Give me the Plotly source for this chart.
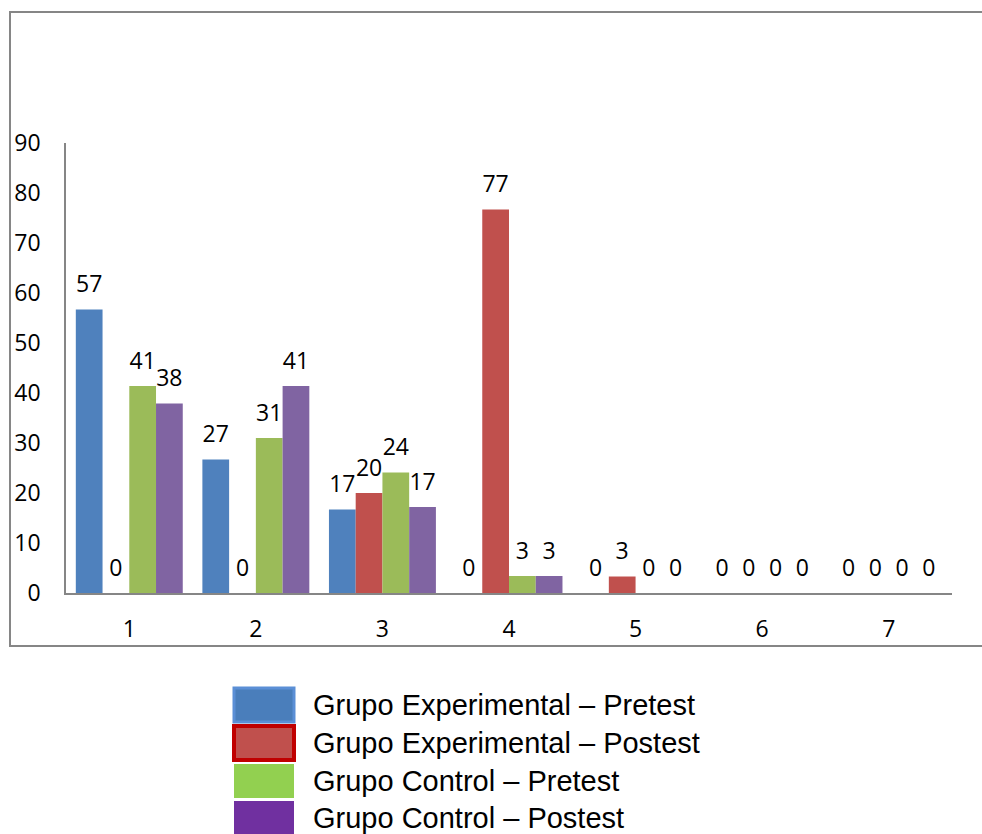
import plotly.graph_objects as go

categories = ["1", "2", "3", "4", "5", "6", "7"]
series_names = [
    "Grupo Experimental – Pretest",
    "Grupo Experimental – Postest",
    "Grupo Control – Pretest",
    "Grupo Control – Postest",
]
exp_pre = [56.7, 26.7, 16.7, 0, 0, 0, 0]
exp_post = [0, 0, 20.0, 76.7, 3.3, 0, 0]
ctl_pre = [41.4, 31.0, 24.1, 3.4, 0, 0, 0]
ctl_post = [37.9, 41.4, 17.2, 3.4, 0, 0, 0]
bar_colors = ["#4F81BD", "#C0504D", "#9BBB59", "#8064A2"]
y_ticks = [0, 10, 20, 30, 40, 50, 60, 70, 80, 90]

all_series = [exp_pre, exp_post, ctl_pre, ctl_post]

W, H = 982, 834
L, R, T, B = 66, 30, 143, 241
PW, PH = W - L - R, H - T - B


def px_x(x):
    return (x - L) / PW


def px_y(y):
    return (H - B - y) / PH


fig = go.Figure()
for i, (name, vals, col) in enumerate(zip(series_names, all_series, bar_colors)):
    fig.add_trace(go.Bar(
        x=categories, y=vals, name=name,
        marker=dict(color=col, line=dict(width=0)),
        offsetgroup=str(i),
        showlegend=False, hoverinfo="skip",
    ))
for i, (name, vals) in enumerate(zip(series_names, all_series)):
    fig.add_trace(go.Scatter(
        x=categories, y=vals, name=name + " (etiquetas)",
        mode="markers+text",
        marker=dict(size=17, opacity=0),
        offsetgroup=str(i),
        text=[f"{round(v):d}" for v in vals],
        textposition="top center",
        cliponaxis=False,
        textfont=dict(family="Open Sans", size=23, color="#000000"),
        showlegend=False, hoverinfo="skip",
    ))

shapes = []
shapes.append(dict(type="rect", xref="paper", yref="paper",
                   x0=px_x(10), x1=px_x(1010), y0=px_y(646), y1=px_y(12),
                   line=dict(color="#868686", width=2), fillcolor="rgba(0,0,0,0)",
                   layer="below"))

legend_fill = ["#4A7EBB", "#C0504D", "#92D050", "#7030A0"]
legend_line = ["#5B8FD6", "#C00000", "#92D050", "#7030A0"]
legend_lw = [3, 4, 0, 0]
rows = [(688, 722), (726, 760), (764, 798), (801, 835)]
annotations = []
for (y0, y1), name, fc, lc, lw in zip(rows, series_names, legend_fill, legend_line, legend_lw):
    shapes.append(dict(type="rect", xref="paper", yref="paper",
                       x0=px_x(234), x1=px_x(294), y0=px_y(y1), y1=px_y(y0),
                       fillcolor=fc, line=dict(color=lc, width=lw)))
    annotations.append(dict(xref="paper", yref="paper", x=px_x(311), y=px_y((y0 + y1) / 2),
                            text=name, showarrow=False, xanchor="left", yanchor="middle",
                            font=dict(family="Liberation Sans", size=29, color="#000000")))

fig.update_layout(
    width=W, height=H,
    margin=dict(l=L, r=R, t=T, b=B, autoexpand=False),
    paper_bgcolor="white", plot_bgcolor="white",
    barmode="group", bargap=0.155, bargroupgap=0,
    scattermode="group", scattergap=0.155,
    font=dict(family="Open Sans", size=23, color="#000000"),
    shapes=shapes, annotations=annotations,
    xaxis=dict(showgrid=False, showline=True, linecolor="#868686", linewidth=1.5,
               ticks="", ticklabelstandoff=15, zeroline=False, automargin=False,
               tickfont=dict(family="Open Sans", size=23, color="#000000")),
    yaxis=dict(range=[0, 90], tickvals=y_ticks, showgrid=False, showline=True,
               linecolor="#868686", linewidth=1.5, ticks="", ticklabelstandoff=19,
               zeroline=False, automargin=False,
               tickfont=dict(family="Open Sans", size=23, color="#000000")),
)

fig.write_html("out.html")
